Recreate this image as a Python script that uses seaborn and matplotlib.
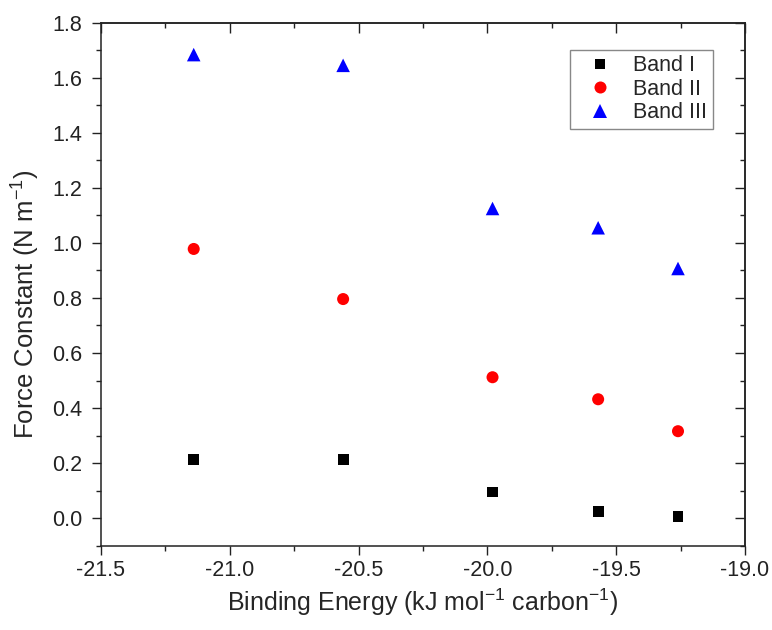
import matplotlib
matplotlib.use("Agg")
import matplotlib.pyplot as plt
from matplotlib.ticker import MultipleLocator
import pandas as pd
import seaborn as sns

# values
binding_energy = [-21.14, -20.56, -19.98, -19.57, -19.26]
band_1 = [0.214, 0.214, 0.095, 0.024, 0.006]
band_2 = [0.978, 0.796, 0.512, 0.432, 0.316]
band_3 = [1.684, 1.645, 1.125, 1.055, 0.907]
band_names = ["Band I", "Band II", "Band III"]
band_colors = ["black", "red", "blue"]
band_markers = ["s", "o", "^"]

rows = []
for name, vals in zip(band_names, [band_1, band_2, band_3]):
    for x, y in zip(binding_energy, vals):
        rows.append({"energy": x, "force": y, "band": name})
df = pd.DataFrame(rows)

sns.set_style("ticks")
plt.rcParams["font.family"] = ["Liberation Sans", "DejaVu Sans"]
plt.rcParams["mathtext.fontset"] = "custom"
plt.rcParams["mathtext.rm"] = "Liberation Sans"
plt.rcParams["mathtext.it"] = "Liberation Sans:italic"
plt.rcParams["mathtext.bf"] = "Liberation Sans:bold"

fig = plt.figure(figsize=(7.72, 6.30), dpi=100)
ax = fig.add_axes([0.1308, 0.1338, 0.8342, 0.8302])

sns.scatterplot(data=df, x="energy", y="force", hue="band", style="band",
                palette=dict(zip(band_names, band_colors)),
                markers=dict(zip(band_names, band_markers)),
                size="band", sizes={"Band I": 60, "Band II": 75, "Band III": 95},
                linewidth=0, ax=ax)

ax.set_xlim(-21.5, -19.0)
ax.set_ylim(-0.1, 1.8)
ax.xaxis.set_major_locator(MultipleLocator(0.5))
ax.xaxis.set_minor_locator(MultipleLocator(0.25))
ax.yaxis.set_major_locator(MultipleLocator(0.2))
ax.yaxis.set_minor_locator(MultipleLocator(0.1))
ax.xaxis.set_major_formatter(plt.FormatStrFormatter("%.1f"))
ax.yaxis.set_major_formatter(plt.FormatStrFormatter("%.1f"))
ax.tick_params(which="major", direction="out", length=6.5, width=1.0,
               labelsize=15.5, colors="#222222")
ax.tick_params(which="minor", direction="out", length=3.5, width=1.0, colors="#222222")
ax.tick_params(axis="x", pad=4)
ax.tick_params(axis="y", pad=7)
for s in ax.spines.values():
    s.set_linewidth(1.1)
    s.set_color("#222222")

# inward ticks on the top and right sides
top = ax.secondary_xaxis("top", functions=(lambda v: v, lambda v: v))
top.xaxis.set_major_locator(MultipleLocator(0.5))
top.xaxis.set_minor_locator(MultipleLocator(0.25))
top.tick_params(which="major", direction="in", length=7, width=1.0, labeltop=False, colors="#222222")
top.tick_params(which="minor", direction="in", length=3.5, width=1.0, colors="#222222")
top.spines["top"].set_linewidth(1.1)
right = ax.secondary_yaxis("right", functions=(lambda v: v, lambda v: v))
right.yaxis.set_major_locator(MultipleLocator(0.2))
right.yaxis.set_minor_locator(MultipleLocator(0.1))
right.tick_params(which="major", direction="in", length=7, width=1.0, labelright=False, colors="#222222")
right.tick_params(which="minor", direction="in", length=3.5, width=1.0, colors="#222222")
right.spines["right"].set_linewidth(1.1)

ax.set_xlabel(r"Binding Energy (kJ mol$^{-1}$ carbon$^{-1}$)", fontsize=18)
ax.set_ylabel(r"Force Constant (N m$^{-1}$)", fontsize=18.5)
ax.xaxis.set_label_coords(0.5, -0.079)
ax.yaxis.set_label_coords(-0.092, 0.462)

handles, labels = ax.get_legend_handles_labels()
leg = ax.legend(handles, labels, loc="upper right", bbox_to_anchor=(0.950, 0.948),
                borderaxespad=0, fontsize=15.5, frameon=True, fancybox=False,
                edgecolor="#888888", framealpha=1, labelspacing=0.12,
                handlelength=2.3, handletextpad=0.4, borderpad=0.25)
leg.get_frame().set_linewidth(1.0)

fig.savefig("out.png", dpi=100)
